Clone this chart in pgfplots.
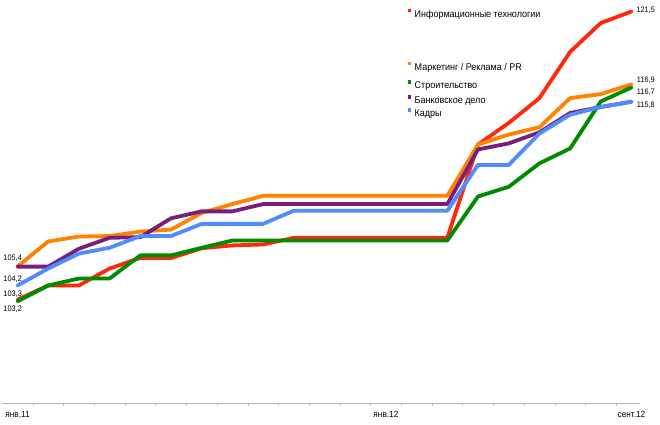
\documentclass[border=0pt]{standalone}
\usepackage{pgfplots}
\pgfplotsset{compat=1.18}
\usepackage{fontspec}
\setmainfont{Liberation Sans}[FakeStretch=0.92]
\definecolor{cIT}{RGB}{255,40,10}
\definecolor{cMk}{RGB}{255,130,0}
\definecolor{cSt}{RGB}{0,140,0}
\definecolor{cBk}{RGB}{120,30,125}
\definecolor{cKd}{RGB}{80,140,255}
\pgfplotstableread{
i IT Mk St Bk Kd
0 103.3 105.4 103.2 105.39 104.2
1 104.2 106.98 104.2 105.39 105.27
2 104.2 107.29 104.64 106.52 106.21
3 105.27 107.32 104.64 107.21 106.58
4 105.94 107.6 106.1 107.25 107.32
5 105.94 107.73 106.1 108.44 107.32
6 106.55 108.78 106.58 108.88 108.09
7 106.73 109.34 107.04 108.88 108.09
8 106.79 109.86 107.04 109.34 108.09
9 107.21 109.86 107.04 109.34 108.92
10 107.21 109.86 107.04 109.34 108.92
11 107.21 109.86 107.04 109.34 108.92
12 107.21 109.86 107.04 109.34 108.92
13 107.21 109.86 107.04 109.34 108.92
14 107.21 109.86 107.04 109.34 108.92
15 113.1 113.1 109.82 112.79 111.81
16 114.46 113.73 110.43 113.17 111.81
17 116.03 114.19 111.91 113.87 113.79
18 118.95 116.03 112.85 115.09 114.98
19 120.77 116.28 115.82 115.47 115.47
20 121.5 116.9 116.7 115.8 115.8
}\datatable
\newcommand{\lsq}[1]{\textcolor{#1}{\rule[4.8bp]{3.5bp}{3.5bp}}\hspace{3.5bp}}
\begin{document}
\begin{tikzpicture}[x=1bp,y=1bp]
\useasboundingbox (0,0) rectangle (660,424);
\begin{axis}[
  at={(2.15bp,21bp)}, anchor=south west,
  scale only axis, width=637.95bp, height=403bp,
  xmin=-0.5, xmax=20.28, ymin=96.78, ymax=122.224,
  clip=false,
  axis x line=bottom, axis y line=none,
  axis line style={-, draw=gray!60, line width=0.8bp},
  xtick={0,12,20}, xticklabels={янв.11,янв.12,сент.12},
  major tick length=0pt,
  minor xtick={0.5,1.5,...,19.5},
  minor tick length=3bp, tick align=outside,
  minor tick style={draw=gray!45, line width=0.5bp},
  xticklabel style={font=\fontsize{9}{10}\selectfont, anchor=base, yshift=-14bp, inner sep=0pt},
  ytick=\empty,
  every axis plot/.append style={no markers, line width=3.8bp, line join=round, line cap=round},
]
\addplot[cIT] table[x=i,y=IT]{\datatable};
\addplot[cMk] table[x=i,y=Mk]{\datatable};
\addplot[cSt] table[x=i,y=St]{\datatable};
\addplot[cBk] table[x=i,y=Bk]{\datatable};
\addplot[cKd] table[x=i,y=Kd]{\datatable};
\end{axis}
\begin{scope}[every node/.style={inner sep=0pt, anchor=base west, font=\fontsize{8}{9}\selectfont}]
\node at (3.3,163.3) {105,4};
\node at (3.3,142.3) {104,2};
\node at (3.3,127.3) {103,3};
\node at (3.3,113) {103,2};
\node at (636.3,411.3) {121,5};
\node at (636.7,341.3) {116,9};
\node at (636.7,330) {116,7};
\node at (636.7,316.7) {115,8};
\end{scope}
\begin{scope}[every node/.style={inner sep=0pt, anchor=base west, font=\fontsize{9.8}{11}\selectfont}]
\node at (407.5,406.7) {\lsq{cIT}Информационные технологии};
\node at (407.5,354) {\lsq{cMk}Маркетинг / Реклама / PR};
\node at (407.5,335.7) {\lsq{cSt}Строительство};
\node at (407.5,320.7) {\lsq{cBk}Банковское дело};
\node at (407.5,307.3) {\lsq{cKd}Кадры};
\end{scope}
\end{tikzpicture}
\end{document}
